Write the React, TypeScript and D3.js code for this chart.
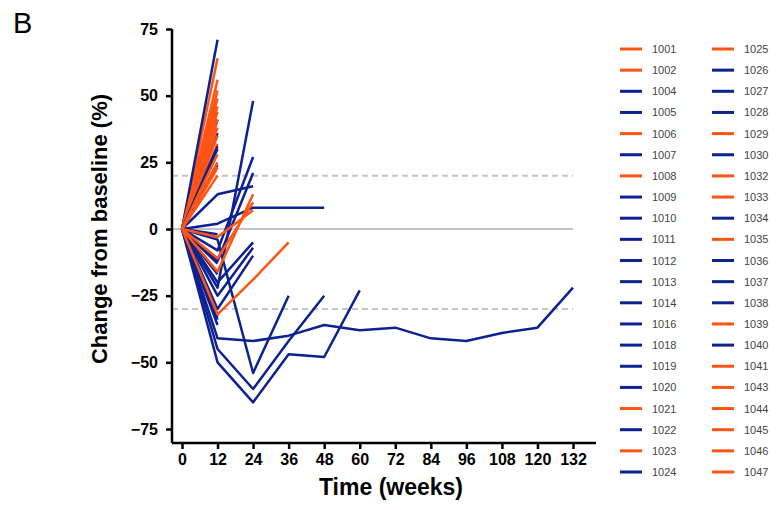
import React, { useEffect, useRef } from "react";
import * as d3 from "d3";

// visit weeks
const weeks = [0, 12, 24, 36, 48, 60, 72, 84, 96, 108, 120, 132];
const yTicks = [-75, -50, -25, 0, 25, 50, 75];

// subject ids, arm colour group and % change from baseline at each visit
const subjectIds = [
  1001, 1002, 1004, 1005, 1006, 1007, 1008, 1009, 1010, 1011, 1012, 1013, 1014, 1016,
  1018, 1019, 1020, 1021, 1022, 1023, 1024, 1025, 1026, 1027, 1028, 1029, 1030, 1032,
  1033, 1034, 1035, 1036, 1037, 1038, 1039, 1040, 1041, 1043, 1044, 1045, 1046, 1047
];
const arms = [
  "o", "o", "b", "b", "o", "b", "o", "b", "b", "b", "b", "b", "b", "b",
  "b", "b", "b", "o", "b", "o", "b", "o", "b", "b", "b", "o", "b", "o",
  "o", "b", "o", "b", "b", "b", "o", "b", "o", "o", "o", "o", "o", "o"
];
const changes: number[][] = [
  [0, 64],
  [0, 56],
  [0, 71],
  [0, 41],
  [0, 52],
  [0, 36],
  [0, 49],
  [0, 30],
  [0, 24],
  [0, 13, 16],
  [0, -8, 27],
  [0, -22, 48],
  [0, 2, 8, 8, 8],
  [0, -12, 21],
  [0, -20, -5],
  [0, -25, -7],
  [0, -30, -10],
  [0, 46],
  [0, -41, -42, -40, -36, -38, -37, -41, -42, -39, -37, -22],
  [0, 44],
  [0, -50, -65, -47, -48, -23],
  [0, 41],
  [0, -45, -60, -42, -25],
  [0, -4, -54, -25],
  [0, -34],
  [0, 38],
  [0, -33],
  [0, 35],
  [0, 32],
  [0, -17],
  [0, 25],
  [0, -13],
  [0, -36],
  [0, 31],
  [0, 20],
  [0, -2],
  [0, 23],
  [0, -32, -19, -5],
  [0, -16, 13],
  [0, -11, 10],
  [0, -3, 7],
  [0, 28]
];

const colors: Record<string, string> = { o: "#ff5414", b: "#0d2191" };

export default function App() {
  const ref = useRef<SVGSVGElement>(null);

  useEffect(() => {
    const svg = d3.select(ref.current);
    svg.selectAll("*").remove();

    const x = d3.scaleLinear().domain([0, 132]).range([182, 573]);
    const y = d3.scaleLinear().domain([-75, 75]).range([429, 29]);
    const font = "Arial, 'Liberation Sans', sans-serif";

    // panel letter
    svg.append("text").attr("x", 13).attr("y", 33)
      .attr("font-family", font).attr("font-size", 29).text("B");

    // reference lines
    svg.append("line").attr("x1", 172).attr("x2", x(132))
      .attr("y1", y(0)).attr("y2", y(0))
      .attr("stroke", "#c4c4c4").attr("stroke-width", 2);
    [20, -30].forEach(v => {
      svg.append("line").attr("x1", 172).attr("x2", x(132))
        .attr("y1", y(v)).attr("y2", y(v))
        .attr("stroke", "#c4c4c4").attr("stroke-width", 2)
        .attr("stroke-dasharray", "6,4");
    });

    // axes
    const yAxis = svg.append("g").attr("transform", "translate(172,0)")
      .call(d3.axisLeft(y).tickValues(yTicks).tickSize(6).tickPadding(8));
    yAxis.select(".domain").attr("d", `M0,${y(75)}V443`);
    const xAxis = svg.append("g").attr("transform", "translate(0,443)")
      .call(d3.axisBottom(x).tickValues(weeks).tickSize(6).tickPadding(5));
    xAxis.select(".domain").attr("d", "M172,0H596");
    [yAxis, xAxis].forEach(g => {
      g.selectAll(".domain").attr("stroke", "#000").attr("stroke-width", 2.5);
      g.selectAll(".tick line").attr("stroke", "#000").attr("stroke-width", 2.5);
      g.selectAll(".tick text").attr("fill", "#000").attr("font-family", font)
        .attr("font-size", 16).attr("font-weight", "bold");
    });

    // subject lines
    const line = d3.line<number>().x((d, i) => x(weeks[i])).y(d => y(d));
    subjectIds.forEach((id, k) => {
      svg.append("path").datum(changes[k]).attr("d", line)
        .attr("fill", "none").attr("stroke", colors[arms[k]])
        .attr("stroke-width", 2.5).attr("stroke-linejoin", "round");
    });

    // axis titles
    svg.append("text").attr("x", 391).attr("y", 495).attr("text-anchor", "middle")
      .attr("font-family", font).attr("font-size", 23).attr("font-weight", "bold")
      .text("Time (weeks)");
    svg.append("text").attr("transform", "translate(107,229) rotate(-90)")
      .attr("text-anchor", "middle").attr("font-family", font)
      .attr("font-size", 22).attr("font-weight", "bold")
      .text("Change from baseline (%)");

    // legend
    const leg = svg.append("g");
    subjectIds.forEach((id, k) => {
      const col = k < 21 ? 0 : 1;
      const row = k % 21;
      const lx = 620 + col * 92;
      const ly = 49 + row * 21.15;
      leg.append("line").attr("x1", lx).attr("x2", lx + 22).attr("y1", ly).attr("y2", ly)
        .attr("stroke", colors[arms[k]]).attr("stroke-width", 3);
      leg.append("text").attr("x", lx + 32).attr("y", ly + 4)
        .attr("font-family", font).attr("font-size", 11).attr("fill", "#444")
        .text(id);
    });
  }, []);

  return (
    <svg ref={ref} width={777} height={510}
      style={{ position: "absolute", left: 0, top: 0, background: "#fff" }} />
  );
}
